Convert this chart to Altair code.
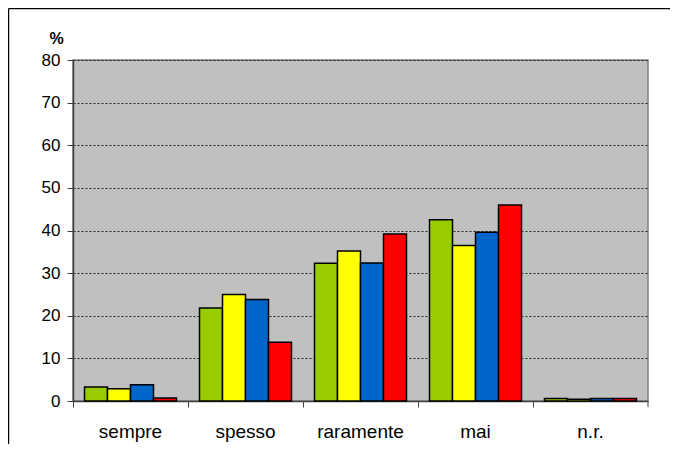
import altair as alt
import pandas as pd

categories = ["sempre", "spesso", "raramente", "mai", "n.r."]
series = ["serie 1", "serie 2", "serie 3", "serie 4"]
colors = ["#99CC00", "#FFFF00", "#0066CC", "#FF0000"]
serie1 = [3.3, 21.8, 32.3, 42.5, 0.6]
serie2 = [2.9, 25.0, 35.2, 36.5, 0.4]
serie3 = [3.8, 23.8, 32.4, 39.6, 0.6]
serie4 = [0.7, 13.8, 39.2, 46.0, 0.6]
y_ticks = [0, 10, 20, 30, 40, 50, 60, 70, 80]

rows = []
for s, vals in zip(series, [serie1, serie2, serie3, serie4]):
    for c, v in zip(categories, vals):
        rows.append({"categoria": c, "serie": s, "valore": v})
df = pd.DataFrame(rows)

FONT = "Liberation Sans"
W, H = 575, 341

bars = alt.Chart(df).mark_bar(stroke="black", strokeWidth=1.5).encode(
    x=alt.X("categoria:N", sort=categories,
            scale=alt.Scale(paddingInner=0, paddingOuter=0),
            axis=alt.Axis(title=None, labelAngle=0, bandPosition=0, ticks=True,
                          tickSize=6, tickColor="#404040", domainColor="#404040",
                          domainWidth=1.5, labelPadding=15, labelFontSize=19,
                          labelFont=FONT, labelColor="black", grid=False)),
    xOffset=alt.XOffset("serie:N", sort=series,
                        scale=alt.Scale(paddingInner=0, paddingOuter=0.5)),
    y=alt.Y("valore:Q", scale=alt.Scale(domain=[0, 80], nice=False),
            axis=alt.Axis(values=y_ticks, title="%", titleAngle=0, titleX=-17,
                          titleY=-22, titleAlign="center", titleBaseline="middle",
                          titleFont=FONT, titleFontSize=16, titleFontWeight="bold",
                          titleColor="black",
                          labelFont=FONT, labelFontSize=17, labelColor="black",
                          labelPadding=7, tickSize=6, tickColor="#404040",
                          domainColor="#404040", domainWidth=1.5,
                          grid=True, gridColor="black", gridDash=[2, 2],
                          gridWidth=1, gridOpacity=0.8)),
    color=alt.Color("serie:N", sort=series,
                    scale=alt.Scale(domain=series, range=colors), legend=None),
)

deco = alt.Data(values=[{}])
end_tick = alt.Chart(deco).mark_rule(color="#404040", strokeWidth=1).encode(
    x=alt.value(W), y=alt.value(H), y2=alt.value(H + 6))
border_top = alt.Chart(deco).mark_rule(color="black", strokeWidth=1.2).encode(
    x=alt.value(-64.4), x2=alt.value(700), y=alt.value(-51.4))
border_left = alt.Chart(deco).mark_rule(color="black", strokeWidth=1.2).encode(
    x=alt.value(-64.4), y=alt.value(-51.4), y2=alt.value(500))

chart = alt.layer(bars, end_tick, border_top, border_left).properties(
    width=W, height=H,
    background="white",
    autosize=alt.AutoSizeParams(type="none"),
    padding={"left": 65, "top": 52, "right": 22, "bottom": 43},
).configure_view(
    fill="#C0C0C0", stroke="#808080", strokeWidth=1.5
)

chart.save("out.html", embed_options={"renderer": "svg", "actions": False})
